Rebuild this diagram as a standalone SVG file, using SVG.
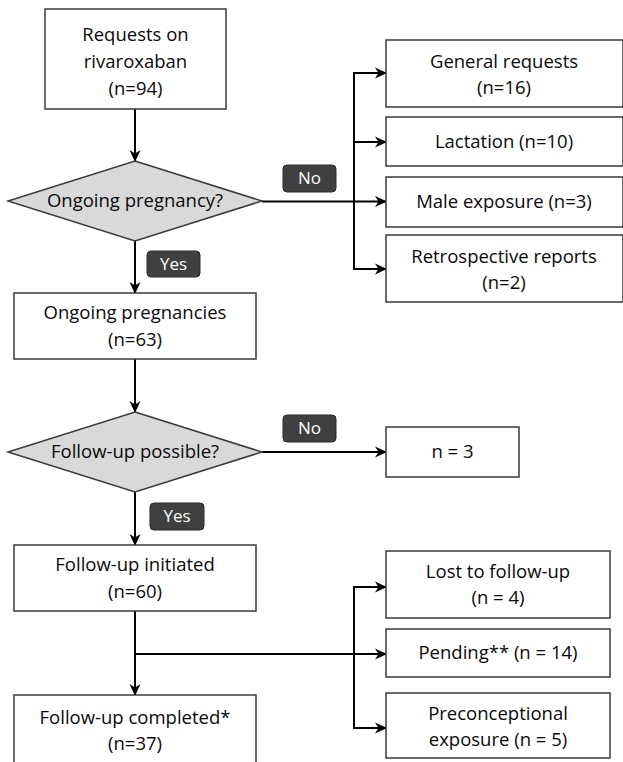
<svg xmlns="http://www.w3.org/2000/svg" width="623" height="762" viewBox="0 0 623 762">
<style>
.box{fill:#ffffff;stroke:#3a3a3a;stroke-width:1.5}
.dia{fill:#d9d9d9;stroke:#3a3a3a;stroke-width:1.5}
.lab{fill:#404040;stroke:#2a2a2a;stroke-width:1}
.t{font-family:"Open Sans","Noto Sans",sans-serif;font-size:18.5px;fill:#0a0a0a;text-anchor:middle}
.lt{font-family:"Open Sans","Noto Sans",sans-serif;font-size:17px;fill:#ffffff;text-anchor:middle}
.c{fill:none;stroke:#000000;stroke-width:2}
.ca{fill:none;stroke:#000000;stroke-width:2;marker-end:url(#arr)}
</style>
<defs>
<marker id="arr" viewBox="0 0 12 12" refX="11" refY="6" markerWidth="12" markerHeight="12" markerUnits="userSpaceOnUse" orient="auto">
<path d="M0,0.5 L12,6 L0,11.5 L3.5,6 z" fill="#000000"/>
</marker>
</defs>
<g id="connectors">
<line class="ca" x1="135" y1="109" x2="135" y2="161"/>
<line class="ca" x1="135" y1="241" x2="135" y2="293"/>
<line class="ca" x1="262" y1="201.5" x2="386" y2="201.5"/>
<line class="c" x1="354" y1="72" x2="354" y2="270"/>
<line class="ca" x1="353" y1="73" x2="386" y2="73"/>
<line class="ca" x1="353" y1="142" x2="386" y2="142"/>
<line class="ca" x1="353" y1="269" x2="386" y2="269"/>
<line class="ca" x1="135" y1="359" x2="135" y2="412"/>
<line class="ca" x1="135" y1="492" x2="135" y2="545"/>
<line class="ca" x1="262" y1="452" x2="386" y2="452"/>
<line class="ca" x1="135" y1="611" x2="135" y2="695"/>
<line class="ca" x1="135" y1="654" x2="386" y2="654"/>
<line class="c" x1="354" y1="586" x2="354" y2="729"/>
<line class="ca" x1="353" y1="587" x2="386" y2="587"/>
<line class="ca" x1="353" y1="728" x2="386" y2="728"/>
</g>
<g id="requests">
<rect class="box" x="45" y="9" width="181" height="100"/>
<text class="t" x="135.5" y="41">Requests on</text>
<text class="t" x="135.5" y="68">rivaroxaban</text>
<text class="t" x="135.5" y="95">(n=94)</text>
</g>
<g id="ongoing-question">
<polygon class="dia" points="135,161 262,201 135,241 8,201"/>
<text class="t" x="135" y="207">Ongoing pregnancy?</text>
</g>
<g id="label-no-1">
<rect class="lab" x="283" y="165" width="53" height="27" rx="4"/>
<text class="lt" x="309.5" y="184">No</text>
</g>
<g id="label-yes-1">
<rect class="lab" x="147" y="251" width="53" height="26" rx="4"/>
<text class="lt" x="173.5" y="270">Yes</text>
</g>
<g id="general">
<rect class="box" x="386" y="40" width="237" height="67"/>
<text class="t" x="504" y="68">General requests</text>
<text class="t" x="504" y="94">(n=16)</text>
</g>
<g id="lactation">
<rect class="box" x="386" y="117" width="237" height="49"/>
<text class="t" x="504" y="148">Lactation (n=10)</text>
</g>
<g id="male">
<rect class="box" x="386" y="177" width="237" height="50"/>
<text class="t" x="504" y="208">Male exposure (n=3)</text>
</g>
<g id="retrospective">
<rect class="box" x="386" y="235" width="237" height="67"/>
<text class="t" x="504" y="263">Retrospective reports</text>
<text class="t" x="504" y="289">(n=2)</text>
</g>
<g id="ongoing">
<rect class="box" x="14" y="293" width="242" height="66"/>
<text class="t" x="135" y="319">Ongoing pregnancies</text>
<text class="t" x="135" y="346">(n=63)</text>
</g>
<g id="followup-question">
<polygon class="dia" points="135,412 262,452 135,492 8,452"/>
<text class="t" x="135" y="458">Follow-up possible?</text>
</g>
<g id="label-no-2">
<rect class="lab" x="283" y="415" width="53" height="27" rx="4"/>
<text class="lt" x="309.5" y="434">No</text>
</g>
<g id="label-yes-2">
<rect class="lab" x="150" y="503" width="54" height="27" rx="4"/>
<text class="lt" x="177" y="522">Yes</text>
</g>
<g id="n3">
<rect class="box" x="386" y="427" width="133" height="50"/>
<text class="t" x="452.5" y="458">n = 3</text>
</g>
<g id="initiated">
<rect class="box" x="14" y="545" width="242" height="66"/>
<text class="t" x="135" y="571">Follow-up initiated</text>
<text class="t" x="135" y="598">(n=60)</text>
</g>
<g id="completed">
<rect class="box" x="14" y="695" width="242" height="72"/>
<text class="t" x="135" y="724">Follow-up completed*</text>
<text class="t" x="135" y="750">(n=37)</text>
</g>
<g id="lost">
<rect class="box" x="386" y="551" width="224" height="67"/>
<text class="t" x="498" y="578">Lost to follow-up</text>
<text class="t" x="498" y="604">(n = 4)</text>
</g>
<g id="pending">
<rect class="box" x="386" y="629" width="224" height="48"/>
<text class="t" x="498" y="659">Pending** (n = 14)</text>
</g>
<g id="preconceptional">
<rect class="box" x="386" y="693" width="224" height="65"/>
<text class="t" x="498" y="720">Preconceptional</text>
<text class="t" x="498" y="746">exposure (n = 5)</text>
</g>
</svg>
